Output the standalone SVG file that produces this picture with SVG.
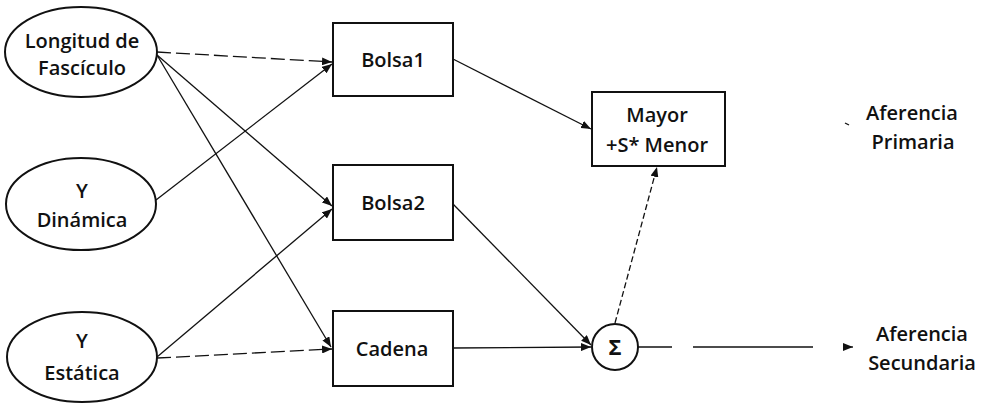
<svg xmlns="http://www.w3.org/2000/svg" width="981" height="404" viewBox="0 0 981 404">
  <style>
    .shape { fill: #fff; stroke: #111; stroke-width: 2; }
    .lbl { font-family: "Open Sans", "Liberation Sans", sans-serif; font-size: 20px; font-weight: 600; fill: #111; text-anchor: middle; }
    .sigma { font-size: 22px; font-weight: 700; }
    .wire { stroke: #111; stroke-width: 1.3; fill: none; }
    .long-dash { stroke-dasharray: 14 5; }
    .fine-dash { stroke-dasharray: 6 3; }
  </style>
  <defs>
    <marker id="arrow" viewBox="0 0 10 8" refX="10" refY="4" markerWidth="10" markerHeight="8" markerUnits="userSpaceOnUse" orient="auto">
      <path d="M0,0 L10,4 L0,8 Z" fill="#111"/>
    </marker>
  </defs>
  <rect width="981" height="404" fill="#fff"/>

  <!-- connectors -->
  <g id="connectors">
    <line class="wire long-dash" x1="157" y1="52" x2="332" y2="62" marker-end="url(#arrow)"/>
    <line class="wire" x1="157" y1="55" x2="332" y2="206" marker-end="url(#arrow)"/>
    <line class="wire" x1="157" y1="55" x2="331" y2="347" marker-end="url(#arrow)"/>
    <line class="wire" x1="156" y1="200" x2="332" y2="64" marker-end="url(#arrow)"/>
    <line class="wire" x1="157" y1="357" x2="332" y2="209" marker-end="url(#arrow)"/>
    <line class="wire long-dash" x1="157" y1="358" x2="332" y2="349" marker-end="url(#arrow)"/>
    <line class="wire" x1="453" y1="59" x2="591" y2="129" marker-end="url(#arrow)"/>
    <line class="wire" x1="453" y1="204" x2="591" y2="345" marker-end="url(#arrow)"/>
    <line class="wire" x1="453" y1="348" x2="591" y2="347" marker-end="url(#arrow)"/>
    <line class="wire fine-dash" x1="615" y1="323" x2="657" y2="167" marker-end="url(#arrow)"/>
    <line class="wire" x1="638" y1="347" x2="672" y2="347"/>
    <line class="wire" x1="693" y1="347" x2="813" y2="347"/>
    <line class="wire" x1="843" y1="347" x2="853" y2="347" marker-end="url(#arrow)"/>
    <line class="wire" x1="845" y1="123" x2="849" y2="125"/>
  </g>

  <!-- input nodes -->
  <g id="longitud">
    <ellipse class="shape" cx="81" cy="52" rx="76" ry="45"/>
    <text class="lbl" x="82" y="48">Longitud de</text>
    <text class="lbl" x="82" y="75">Fascículo</text>
  </g>
  <g id="dinamica">
    <ellipse class="shape" cx="81" cy="204" rx="75" ry="46"/>
    <text class="lbl" x="82" y="198">Y</text>
    <text class="lbl" x="82" y="227">Dinámica</text>
  </g>
  <g id="estatica">
    <ellipse class="shape" cx="82" cy="357" rx="75" ry="45"/>
    <text class="lbl" x="82" y="348">Y</text>
    <text class="lbl" x="82" y="380">Estática</text>
  </g>

  <!-- intrafusal fibre blocks -->
  <g id="bolsa1">
    <rect class="shape" x="333" y="23" width="120" height="73"/>
    <text class="lbl" x="393" y="67">Bolsa1</text>
  </g>
  <g id="bolsa2">
    <rect class="shape" x="333" y="165" width="120" height="75"/>
    <text class="lbl" x="393" y="210">Bolsa2</text>
  </g>
  <g id="cadena">
    <rect class="shape" x="333" y="311" width="120" height="75"/>
    <text class="lbl" x="392" y="356">Cadena</text>
  </g>

  <!-- combination stages -->
  <g id="mayor">
    <rect class="shape" x="592" y="92" width="133" height="74"/>
    <text class="lbl" x="657" y="122">Mayor</text>
    <text class="lbl" x="657" y="152">+S* Menor</text>
  </g>
  <g id="suma">
    <circle class="shape" cx="615" cy="347" r="23"/>
    <text class="lbl sigma" x="615" y="355">Σ</text>
  </g>

  <!-- outputs -->
  <g id="primaria">
    <text class="lbl" x="912" y="120">Aferencia</text>
    <text class="lbl" x="913" y="149">Primaria</text>
  </g>
  <g id="secundaria">
    <text class="lbl" x="922" y="341">Aferencia</text>
    <text class="lbl" x="922" y="370">Secundaria</text>
  </g>
</svg>
